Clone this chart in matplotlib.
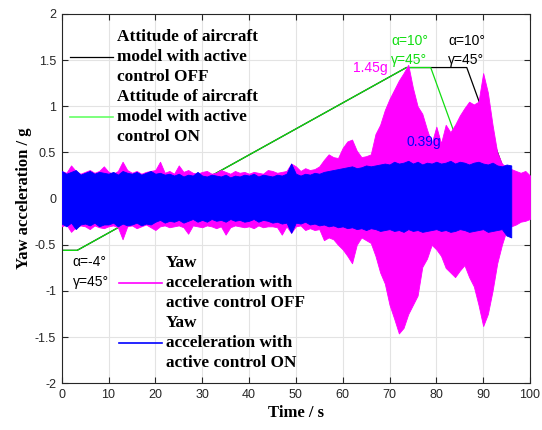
import numpy as np
import matplotlib
matplotlib.use('Agg')
import matplotlib.pyplot as plt

# temps (s), un point par seconde
t = np.arange(0, 101)

# enveloppe de l'accélération de lacet, contrôle actif OFF (magenta)
m_hi = [0.30, 0.28, 0.36, 0.30, 0.27, 0.29, 0.31, 0.28, 0.30, 0.35,
        0.29, 0.27, 0.30, 0.40, 0.31, 0.28, 0.30, 0.27, 0.29, 0.30,
        0.31, 0.40, 0.28, 0.30, 0.27, 0.36, 0.29, 0.31, 0.28, 0.27,
        0.29, 0.30, 0.27, 0.28, 0.31, 0.29, 0.27, 0.30, 0.28, 0.29,
        0.27, 0.29, 0.28, 0.27, 0.31, 0.30, 0.28, 0.29, 0.30, 0.38,
        0.35, 0.30, 0.33, 0.31, 0.32, 0.35, 0.42, 0.48, 0.45, 0.44,
        0.55, 0.62, 0.64, 0.52, 0.45, 0.46, 0.48, 0.70, 0.80, 0.96,
        1.08, 1.18, 1.28, 1.36, 1.45, 1.20, 1.00, 0.92, 0.75, 0.60,
        0.78, 0.60, 0.80, 0.72, 0.80, 0.90, 0.98, 1.05, 1.02, 1.05,
        1.36, 1.15, 0.80, 0.50, 0.38, 0.34, 0.32, 0.30, 0.28, 0.30,
        0.25]
m_lo = [-0.30, -0.28, -0.36, -0.31, -0.29, -0.30, -0.33, -0.29, -0.31, -0.32,
        -0.30, -0.29, -0.31, -0.44, -0.30, -0.29, -0.32, -0.30, -0.28, -0.31,
        -0.34, -0.30, -0.29, -0.31, -0.30, -0.29, -0.31, -0.38, -0.29, -0.30,
        -0.31, -0.29, -0.30, -0.32, -0.30, -0.39, -0.31, -0.29, -0.30, -0.31,
        -0.30, -0.32, -0.29, -0.31, -0.30, -0.30, -0.31, -0.39, -0.30, -0.37,
        -0.30, -0.29, -0.34, -0.32, -0.34, -0.33, -0.45, -0.42, -0.44, -0.50,
        -0.55, -0.62, -0.70, -0.50, -0.42, -0.45, -0.48, -0.62, -0.80, -0.92,
        -1.15, -1.30, -1.46, -1.40, -1.25, -1.15, -1.05, -0.74, -0.65, -0.50,
        -0.55, -0.62, -0.75, -0.80, -0.85, -0.78, -0.72, -0.85, -0.95, -1.15,
        -1.38, -1.25, -1.00, -0.70, -0.50, -0.34, -0.30, -0.28, -0.25, -0.24,
        -0.22]

# enveloppe, contrôle actif ON (bleu) - s'arrête vers 96.5 s
nan = np.nan
b_hi = [0.30, 0.27, 0.29, 0.31, 0.26, 0.28, 0.30, 0.27, 0.29, 0.28,
        0.27, 0.29, 0.26, 0.30, 0.28, 0.27, 0.29, 0.26, 0.28, 0.30,
        0.27, 0.28, 0.26, 0.27, 0.25, 0.27, 0.24, 0.26, 0.25, 0.29,
        0.25, 0.24, 0.26, 0.25, 0.24, 0.26, 0.23, 0.25, 0.24, 0.26,
        0.25, 0.27, 0.24, 0.26, 0.25, 0.24, 0.26, 0.25, 0.27, 0.38,
        0.27, 0.25, 0.27, 0.26, 0.28, 0.27, 0.29, 0.30, 0.31, 0.32,
        0.33, 0.34, 0.35, 0.33, 0.34, 0.36, 0.35, 0.36, 0.37, 0.38,
        0.37, 0.40, 0.38, 0.39, 0.41, 0.38, 0.40, 0.37, 0.39, 0.38,
        0.40, 0.38, 0.39, 0.41, 0.38, 0.40, 0.39, 0.37, 0.39, 0.40,
        0.38, 0.37, 0.39, 0.36, 0.35, 0.37, 0.36, nan, nan, nan,
        nan]
b_lo = [-0.27, -0.30, -0.26, -0.33, -0.28, -0.27, -0.29, -0.26, -0.30, -0.28,
        -0.28, -0.26, -0.30, -0.27, -0.29, -0.28, -0.26, -0.29, -0.27, -0.28,
        -0.25, -0.23, -0.26, -0.24, -0.25, -0.23, -0.26, -0.24, -0.22, -0.25,
        -0.23, -0.25, -0.22, -0.24, -0.23, -0.25, -0.22, -0.24, -0.23, -0.25,
        -0.24, -0.22, -0.25, -0.23, -0.24, -0.26, -0.25, -0.27, -0.26, -0.37,
        -0.26, -0.27, -0.25, -0.28, -0.27, -0.29, -0.28, -0.30, -0.29, -0.31,
        -0.30, -0.32, -0.31, -0.33, -0.32, -0.34, -0.32, -0.33, -0.35, -0.34,
        -0.33, -0.35, -0.34, -0.36, -0.33, -0.35, -0.34, -0.36, -0.35, -0.34,
        -0.33, -0.35, -0.34, -0.36, -0.35, -0.33, -0.34, -0.36, -0.35, -0.34,
        -0.33, -0.36, -0.35, -0.34, -0.33, -0.40, -0.42, nan, nan, nan,
        nan]

# attitude de la maquette (échelle arbitraire sur l'axe g)
att_off_t = [0, 3.3, 73.6, 86.5, 96]
att_off_y = [-0.56, -0.56, 1.42, 1.42, 0.09]
att_on_t = [0, 3.3, 73.6, 78.8, 86]
att_on_y = [-0.56, -0.56, 1.42, 1.42, 0.41]

xticks = list(range(0, 101, 10))
yticks = [-2, -1.5, -1, -0.5, 0, 0.5, 1, 1.5, 2]
ytick_labels = ['-2', '-1.5', '-1', '-0.5', '0', '0.5', '1', '1.5', '2']

green = '#11dd11'
gris = '#262626'
serif = {'family': 'Liberation Serif', 'weight': 'bold'}
sans = 'Liberation Sans'

fig = plt.figure(figsize=(5.42, 4.30), dpi=100)
ax = fig.add_axes([61.7 / 542, (430 - 383.3) / 430, 468.3 / 542, 369.3 / 430])

ax.grid(True, color='#e3e3e3', linewidth=0.8, zorder=0)
ax.set_axisbelow(True)

l_off, = ax.plot(att_off_t, att_off_y, color='k', lw=0.9, zorder=2)
l_on, = ax.plot(att_on_t, att_on_y, color=green, lw=0.9, zorder=2)
ax.fill_between(t, m_lo, m_hi, color='#ff00ff', lw=0.6, zorder=3)
ax.fill_between(t, b_lo, b_hi, color='#0000ff', lw=0.6, zorder=4)

ax.set_xlim(0, 100)
ax.set_ylim(-2, 2)
ax.set_xticks(xticks)
ax.set_xticklabels([str(v) for v in xticks])
ax.set_yticks(yticks)
ax.set_yticklabels(ytick_labels)
ax.tick_params(direction='in', length=4, width=0.8, top=True, right=True,
               colors=gris, labelsize=9, pad=4)
for lab in ax.get_xticklabels() + ax.get_yticklabels():
    lab.set_family(sans)
for s in ax.spines.values():
    s.set_color(gris)
    s.set_linewidth(0.8)

ax.set_xlabel('Time / s', fontdict=dict(serif, size=12), labelpad=3)
ax.set_ylabel('Yaw acceleration / g', fontdict=dict(serif, size=12), labelpad=2)

# annotations
ax.text(70.4, 1.71, 'α=10°', color=green, family=sans, fontsize=10, va='center')
ax.text(70.4, 1.50, 'γ=45°', color=green, family=sans, fontsize=10, va='center')
ax.text(82.5, 1.71, 'α=10°', color='k', family=sans, fontsize=10, va='center')
ax.text(82.5, 1.50, 'γ=45°', color='k', family=sans, fontsize=10, va='center')
ax.text(62.2, 1.416, '1.45g', color='#ff00ff', family=sans, fontsize=10, va='center', zorder=5)
ax.text(73.6, 0.61, '0.39g', color='#0000ff', family=sans, fontsize=10, va='center', zorder=5)
ax.text(2.35, -0.69, 'α=-4°', color='k', family=sans, fontsize=10, va='center')
ax.text(2.35, -0.90, 'γ=45°', color='k', family=sans, fontsize=10, va='center')

h_off = plt.Line2D([], [], color='k', lw=0.9)
h_on = plt.Line2D([], [], color='#66ff66', lw=1.2)
leg1 = ax.legend([h_off, h_on],
                 ['Attitude of aircraft\nmodel with active\ncontrol OFF',
                  'Attitude of aircraft\nmodel with active\ncontrol ON'],
                 loc='upper left', bbox_to_anchor=(0.0177, 0.96), frameon=False,
                 prop={'family': 'Liberation Serif', 'weight': 'bold', 'size': 12.4},
                 borderpad=0, borderaxespad=0, handlelength=2.48, handletextpad=0.23,
                 labelspacing=0.22)
ax.add_artist(leg1)

h_m = plt.Line2D([], [], color='#ff00ff', lw=1.2)
h_b = plt.Line2D([], [], color='#0000ff', lw=1.2)
leg2 = ax.legend([h_m, h_b],
                 ['Yaw\nacceleration with\nactive control OFF',
                  'Yaw\nacceleration with\nactive control ON'],
                 loc='upper left', bbox_to_anchor=(0.123, 0.348), frameon=False,
                 prop={'family': 'Liberation Serif', 'weight': 'bold', 'size': 12.4},
                 borderpad=0, borderaxespad=0, handlelength=2.46, handletextpad=0.25,
                 labelspacing=0.22)
for lg in (leg1, leg2):
    for tx in lg.get_texts():
        tx.set_linespacing(1.34)
    lg.set_zorder(6)

fig.savefig('out.png', dpi=100)
